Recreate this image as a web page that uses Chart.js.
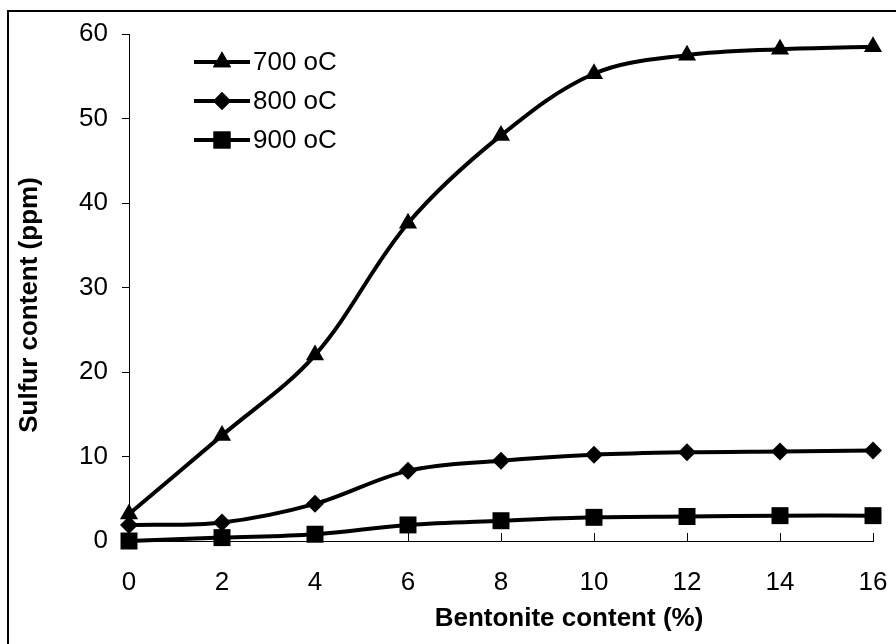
<!DOCTYPE html>
<html>
<head>
<meta charset="utf-8">
<script src="https://cdn.jsdelivr.net/npm/chart.js@4/dist/chart.umd.min.js"></script>
<style>
  html, body { margin: 0; padding: 0; background: #fff; }
  #wrap { width: 896px; height: 644px; position: relative; }
</style>
</head>
<body>
<div id="wrap"><canvas id="sulfurChart"></canvas></div>
<script>
// Bentonite content (%)
const bentonite = [0, 2, 4, 6, 8, 10, 12, 14, 16];
// Sulfur content (ppm) per temperature
const sulfur700 = [3.2, 12.5, 22.0, 37.6, 48.0, 55.3, 57.5, 58.2, 58.5];
const sulfur800 = [1.9, 2.2, 4.4, 8.3, 9.5, 10.2, 10.5, 10.6, 10.7];
const sulfur900 = [0.0, 0.4, 0.8, 1.9, 2.4, 2.8, 2.9, 3.0, 3.0];
const seriesLabels = ['700 oC', '800 oC', '900 oC'];
const xTitle = 'Bentonite content (%)';
const yTitle = 'Sulfur content (ppm)';

const FONT = "'Liberation Sans', Arial, sans-serif";

function toPoints(ys) {
    return bentonite.map((x, i) => ({ x: x, y: ys[i] }));
}

function makeDataset(label, ys, style, radius) {
    return {
        label: label,
        data: toPoints(ys),
        borderColor: '#000',
        backgroundColor: '#000',
        borderWidth: 4,
        pointStyle: style,
        pointRadius: radius,
        pointBorderWidth: 0,
        pointBackgroundColor: '#000',
        tension: 0.35,
        clip: false
    };
}

// Frame, inside x ticks, axis titles and legend
const extrasPlugin = {
    id: 'extras',
    afterDraw(chart) {
        const ctx = chart.ctx;
        const xs = chart.scales.x;
        const area = chart.chartArea;
        ctx.save();
        ctx.strokeStyle = '#000';
        ctx.lineWidth = 2;
        ctx.strokeRect(8, 11, 1000, 1000);

        // x ticks pointing inward
        ctx.lineWidth = 1;
        xs.ticks.forEach(t => {
            const px = Math.round(xs.getPixelForValue(t.value)) + 0.5;
            ctx.beginPath();
            ctx.moveTo(px, area.bottom);
            ctx.lineTo(px, area.bottom - 8);
            ctx.stroke();
        });

        // axis titles (centred on the whole chart box, which runs past the crop)
        ctx.fillStyle = '#000';
        ctx.font = 'bold 26px ' + FONT;
        ctx.textAlign = 'center';
        ctx.textBaseline = 'middle';
        ctx.fillText(xTitle, 569, 619);
        ctx.save();
        ctx.translate(30, 305);
        ctx.rotate(-Math.PI / 2);
        ctx.fillText(yTitle, 0, 0);
        ctx.restore();

        // legend
        const x0 = 194, x1 = 250, rows = [62, 101, 140];
        ctx.font = '26px ' + FONT;
        ctx.textAlign = 'left';
        chart.data.datasets.forEach((ds, i) => {
            const y = rows[i];
            ctx.lineWidth = 4;
            ctx.beginPath();
            ctx.moveTo(x0, y);
            ctx.lineTo(x1, y);
            ctx.stroke();
            Chart.helpers.drawPoint(ctx, { pointStyle: ds.pointStyle, radius: ds.pointRadius, borderWidth: 0 }, (x0 + x1) / 2, y);
            ctx.fill();
            ctx.fillText(ds.label, x1 + 3, y + 1);
        });
        ctx.restore();
    }
};

const ctx = document.getElementById('sulfurChart').getContext('2d');
const sulfurChart = new Chart(ctx, {
    type: 'line',
    data: {
        datasets: [
            makeDataset(seriesLabels[0], sulfur700, 'triangle', 10.5),
            makeDataset(seriesLabels[1], sulfur800, 'rectRot', 9),
            makeDataset(seriesLabels[2], sulfur900, 'rect', 12)
        ]
    },
    options: {
        responsive: true,
        maintainAspectRatio: false,
        animation: false,
        layout: { padding: { top: 34, right: 23, left: 0, bottom: 0 } },
        plugins: {
            legend: { display: false },
            tooltip: { enabled: false }
        },
        scales: {
            x: {
                type: 'linear',
                min: 0,
                max: 16,
                afterFit: s => { s.height = 103; s.paddingLeft = 0; s.paddingRight = 0; },
                ticks: { stepSize: 2, color: '#000', padding: 26, font: { family: FONT, size: 26 } },
                grid: { display: true, drawOnChartArea: false, drawTicks: false },
                border: { display: true, color: '#000', width: 1 }
            },
            y: {
                min: 0,
                max: 60,
                afterFit: s => { s.width = 129; s.paddingTop = 0; s.paddingBottom = 0; },
                ticks: { stepSize: 10, color: '#000', padding: 14, font: { family: FONT, size: 26 } },
                grid: { display: true, drawOnChartArea: false, drawTicks: true, tickLength: 7, color: '#000' },
                border: { display: true, color: '#000', width: 1 }
            }
        }
    },
    plugins: [extrasPlugin]
});
</script>
</body>
</html>
